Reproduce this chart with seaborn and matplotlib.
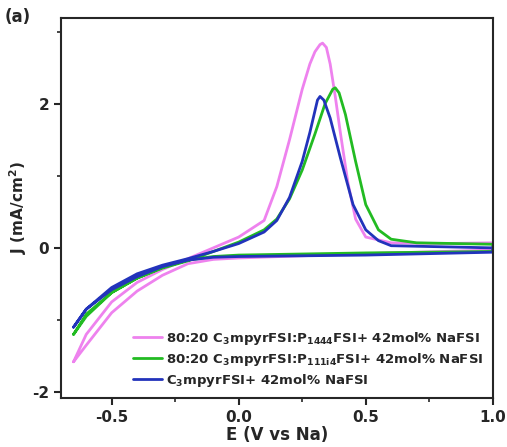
import numpy as np
import pandas as pd
import matplotlib.pyplot as plt
import seaborn as sns
from matplotlib.ticker import AutoMinorLocator

sns.set_style("ticks")
plt.rcParams["font.family"] = ["DejaVu Sans"]
plt.rcParams["font.weight"] = "bold"
plt.rcParams["axes.unicode_minus"] = False

# forward and return scans for each electrolyte
pink_E = [-0.65, -0.6, -0.5, -0.4, -0.3, -0.2, -0.1, 0.0, 0.1, 0.15, 0.2, 0.25, 0.28, 0.3, 0.32, 0.33, 0.345, 0.36, 0.38, 0.4, 0.43, 0.46, 0.5, 0.6, 0.8, 1.0,
          1.0, 0.5, 0.0, -0.1, -0.2, -0.3, -0.4, -0.5, -0.6, -0.65]
pink_J = [-1.58, -1.2, -0.75, -0.48, -0.3, -0.15, 0.0, 0.15, 0.38, 0.85, 1.5, 2.2, 2.55, 2.72, 2.82, 2.84, 2.78, 2.55, 2.1, 1.6, 0.9, 0.4, 0.15, 0.07, 0.06, 0.07,
          -0.03, -0.08, -0.14, -0.16, -0.22, -0.38, -0.6, -0.9, -1.35, -1.58]
green_E = [-0.65, -0.6, -0.5, -0.4, -0.3, -0.2, -0.1, 0.0, 0.1, 0.15, 0.2, 0.25, 0.3, 0.34, 0.37, 0.38, 0.395, 0.42, 0.46, 0.5, 0.55, 0.6, 0.7, 1.0,
           1.0, 0.5, 0.0, -0.1, -0.2, -0.3, -0.4, -0.5, -0.6, -0.65]
green_J = [-1.2, -0.95, -0.62, -0.42, -0.28, -0.18, -0.05, 0.08, 0.25, 0.4, 0.68, 1.08, 1.58, 2.0, 2.2, 2.22, 2.15, 1.85, 1.2, 0.6, 0.25, 0.12, 0.07, 0.05,
           -0.05, -0.07, -0.1, -0.12, -0.17, -0.27, -0.42, -0.62, -0.92, -1.2]
blue_E = [-0.65, -0.6, -0.5, -0.4, -0.3, -0.2, -0.1, 0.0, 0.1, 0.15, 0.2, 0.25, 0.28, 0.31, 0.32, 0.335, 0.36, 0.4, 0.45, 0.5, 0.55, 0.6, 1.0,
          1.0, 0.5, 0.0, -0.1, -0.2, -0.3, -0.4, -0.5, -0.6, -0.65]
blue_J = [-1.1, -0.85, -0.55, -0.36, -0.24, -0.15, -0.05, 0.06, 0.22, 0.38, 0.7, 1.2, 1.6, 2.05, 2.1, 2.05, 1.8, 1.25, 0.6, 0.25, 0.1, 0.03, 0.0,
          -0.06, -0.1, -0.12, -0.13, -0.17, -0.26, -0.4, -0.58, -0.85, -1.1]

labels = [r"80:20 C$_\mathbf{3}$mpyrFSI:P$_\mathbf{1444}$FSI+ 42mol% NaFSI",
          r"80:20 C$_\mathbf{3}$mpyrFSI:P$_\mathbf{111i4}$FSI+ 42mol% NaFSI",
          r"C$_\mathbf{3}$mpyrFSI+ 42mol% NaFSI"]
colors = ["#ee82ee", "#22bb22", "#2233bb"]
series = [(pink_E, pink_J), (green_E, green_J), (blue_E, blue_J)]

fig = plt.figure(figsize=(5.07, 4.47), dpi=100)
ax = fig.add_axes([0.12, 0.11, 0.852, 0.85])

for (E, J), lab, c in zip(series, labels, colors):
    sns.lineplot(x=E, y=J, sort=False, estimator=None, color=c, lw=2, label=lab, ax=ax)

ax.set_xlim(-0.7, 1.0)
ax.set_ylim(-2.08, 3.19)
ax.set_xticks([-0.5, 0.0, 0.5, 1.0])
ax.set_yticks([-2, 0, 2])
ax.xaxis.set_minor_locator(AutoMinorLocator(2))
ax.yaxis.set_minor_locator(AutoMinorLocator(2))
ax.tick_params(which="major", direction="out", length=5, width=1.5, labelsize=11)
ax.tick_params(which="minor", direction="out", length=3, width=1.2)
for s in ax.spines.values():
    s.set_linewidth(1.5)
    s.set_visible(True)
ax.set_xlabel("E (V vs Na)", fontsize=12, fontweight="bold", labelpad=1)
ax.set_ylabel("J (mA/cm$^\\mathbf{2}$)", fontsize=11, fontweight="bold", labelpad=2)
ax.legend(loc="lower right", frameon=False, handlelength=2.2,
          handletextpad=0.3, labelspacing=0.3, borderaxespad=0.3, prop={"weight": "bold", "size": 9.5})
fig.text(0.01, 0.95, "(a)", fontsize=12, fontweight="bold")

fig.savefig("out.png", dpi=100)
